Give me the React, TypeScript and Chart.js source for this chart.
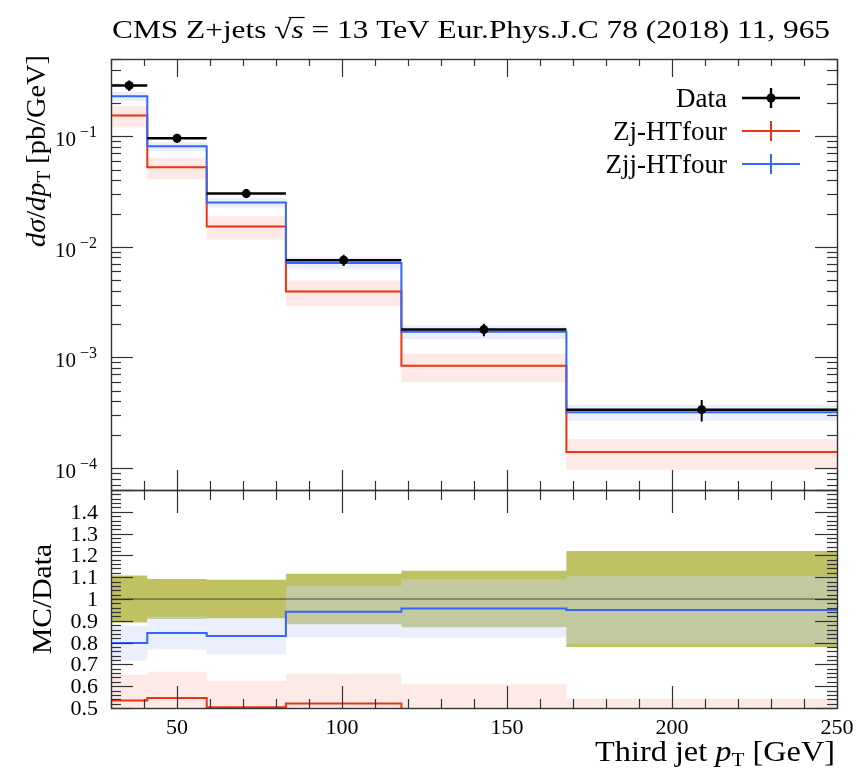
import React, { useEffect, useRef } from 'react';
import { Chart, registerables } from 'chart.js';
Chart.register(...registerables);

const FONT = '"Liberation Serif", "DejaVu Serif", serif';

// ---- data ----
const binEdges = [30, 41, 59, 83, 118, 168, 250];
const binCenters = [35.5, 50, 71, 100.5, 143, 209];
const dataValues = [0.288, 0.096, 0.0303, 0.00757, 0.00178, 0.000336];
const dataRelErr = [0.108, 0.092, 0.088, 0.116, 0.13, 0.22];
const zjValues = [0.154, 0.0524, 0.01524, 0.00394, 0.00084, 0.000139];
const zjRelErr = [0.22, 0.22, 0.24, 0.26, 0.29, 0.31];
const zjjValues = [0.2298, 0.081, 0.02515, 0.00713, 0.001702, 0.000319];
const zjjRelErr = [0.1, 0.09, 0.1, 0.125, 0.14, 0.165];

const xTickValues = [50, 100, 150, 200, 250];
const xTickLabels = ['50', '100', '150', '200', '250'];
const logDecades = [-1, -2, -3, -4];
const ratioTickValues = [0.5, 0.6, 0.7, 0.8, 0.9, 1.0, 1.1, 1.2, 1.3, 1.4];
const ratioTickLabels = ['0.5', '0.6', '0.7', '0.8', '0.9', '1', '1.1', '1.2', '1.3', '1.4'];
const legendLabels = ['Data', 'Zj-HTfour', 'Zjj-HTfour'];

const X_MIN = 30, X_MAX = 250;
const Y_MIN = 6.3e-5, Y_MAX = 0.5;
const R_MIN = 0.5, R_MAX = 1.5;

const RED = '#ee3311';
const BLUE = '#3366ff';
const YELLOW = 'rgb(191,193,99)';
const BLUE_BAND = 'rgba(203,213,250,0.4)';
const RED_BAND = 'rgba(238,51,17,0.1)';
const AXIS = '#333';

function histPoints(vals: number[]) {
  const pts: any[] = [];
  vals.forEach((v, i) => {
    pts.push({ x: binEdges[i], y: v });
    pts.push({ x: binEdges[i + 1], y: v });
  });
  return pts;
}
function hBars(vals: number[]) {
  const pts: any[] = [];
  vals.forEach((v, i) => {
    pts.push({ x: binEdges[i], y: v }, { x: binEdges[i + 1], y: v }, { x: binEdges[i + 1], y: null });
  });
  return pts;
}
function vBars(vals: number[], err: number[]) {
  const pts: any[] = [];
  vals.forEach((v, i) => {
    pts.push({ x: binCenters[i], y: v * (1 - err[i]) }, { x: binCenters[i], y: v * (1 + err[i]) }, { x: binCenters[i], y: null });
  });
  return pts;
}
const scaleArr = (a: number[], f: (v: number, i: number) => number) => a.map(f);

function lineDs(data: any[], color: string, width: number, order: number, extra: any = {}) {
  return {
    data, borderColor: color, borderWidth: width, pointRadius: 0, fill: false, order,
    tension: 0, spanGaps: false, ...extra,
  };
}
function bandDs(hi: number[], lo: number[], color: string, order: number) {
  return [
    { data: histPoints(hi), borderColor: 'transparent', borderWidth: 0, pointRadius: 0, fill: '+1', backgroundColor: color, order, tension: 0 },
    { data: histPoints(lo), borderColor: 'transparent', borderWidth: 0, pointRadius: 0, fill: false, order, tension: 0 },
  ];
}

type Part = { t: string; size: number; italic?: boolean; dy?: number };
function richWidth(ctx: CanvasRenderingContext2D, parts: Part[]) {
  let w = 0;
  for (const p of parts) {
    ctx.font = `${p.italic ? 'italic ' : ''}${p.size}px ${FONT}`;
    w += ctx.measureText(p.t).width;
  }
  return w;
}
// draws rich text; if fitWidth is given the text is stretched horizontally to that width
function drawRich(ctx: CanvasRenderingContext2D, parts: Part[], x: number, y: number, align: 'left' | 'right' | 'center', fitWidth?: number) {
  const w = richWidth(ctx, parts);
  const sx = fitWidth ? fitWidth / w : 1;
  const W = w * sx;
  const x0 = align === 'left' ? x : align === 'right' ? x - W : x - W / 2;
  ctx.save();
  ctx.translate(x0, y);
  ctx.scale(sx, 1);
  let cx = 0;
  ctx.textAlign = 'left';
  ctx.textBaseline = 'alphabetic';
  const offsets: number[] = [];
  for (const p of parts) {
    ctx.font = `${p.italic ? 'italic ' : ''}${p.size}px ${FONT}`;
    offsets.push(cx);
    ctx.fillText(p.t, cx, p.dy || 0);
    cx += ctx.measureText(p.t).width;
  }
  offsets.push(cx);
  ctx.restore();
  return { x0, sx, offsets };
}

function tick(ctx: CanvasRenderingContext2D, x1: number, y1: number, x2: number, y2: number) {
  ctx.beginPath();
  ctx.moveTo(x1, y1);
  ctx.lineTo(x2, y2);
  ctx.stroke();
}

function drawXTicks(chart: any, topMaj: number, topMin: number, botMaj: number, botMin: number) {
  const { ctx, chartArea: a, scales } = chart;
  for (let v = 30; v <= 250; v += 10) {
    const px = Math.round(scales.x.getPixelForValue(v)) + 0.5;
    const major = v % 50 === 0;
    tick(ctx, px, a.top, px, a.top + (major ? topMaj : topMin));
    tick(ctx, px, a.bottom, px, a.bottom - (major ? botMaj : botMin));
  }
}
function drawYTick(chart: any, v: number, len: number) {
  const { ctx, chartArea: a, scales } = chart;
  const py = Math.round(scales.y.getPixelForValue(v)) + 0.5;
  tick(ctx, a.left, py, a.left + len, py);
  tick(ctx, a.right, py, a.right - len, py);
}

const topPlugin = {
  id: 'topDecor',
  afterDraw(chart: any) {
    const { ctx, chartArea: a, scales } = chart;
    ctx.save();
    ctx.strokeStyle = AXIS;
    ctx.lineWidth = 1.2;
    drawXTicks(chart, 18, 7, 20, 9);
    for (let e = -5; e <= 0; e++) {
      for (let m = 1; m <= 9; m++) {
        const v = m * Math.pow(10, e);
        if (v < Y_MIN || v > Y_MAX) continue;
        drawYTick(chart, v, m === 1 ? 22 : 10);
      }
    }
    ctx.lineWidth = 1.4;
    ctx.strokeRect(a.left + 0.5, a.top + 0.5, a.right - a.left, a.bottom - a.top);

    ctx.fillStyle = '#000';
    // y tick labels
    logDecades.forEach((e) => {
      const py = scales.y.getPixelForValue(Math.pow(10, e));
      drawRich(ctx, [
        { t: '10', size: 21 },
        { t: ' \u2212' + String(-e), size: 16, dy: -9 },
      ], a.left - 14, py + 10, 'right');
    });

    // title
    const tParts: Part[] = [
      { t: 'CMS Z+jets ', size: 26 },
      { t: '\u221A', size: 26 },
      { t: 's', size: 26, italic: true },
      { t: ' = 13 TeV Eur.Phys.J.C 78 (2018) 11, 965', size: 26 },
    ];
    const ty = 38;
    const r = drawRich(ctx, tParts, a.left + 1, ty, 'left', 718);
    ctx.lineWidth = 1.2;
    ctx.strokeStyle = '#000';
    tick(ctx, r.x0 + r.offsets[1] * r.sx + r.sx * 12, ty - 20.5, r.x0 + r.offsets[3] * r.sx + 1, ty - 20.5);

    // y title
    ctx.save();
    ctx.translate(45, a.top - 4);
    ctx.rotate(-Math.PI / 2);
    drawRich(ctx, [
      { t: 'd\u03C3', size: 28, italic: true },
      { t: '/', size: 28 },
      { t: 'dp', size: 28, italic: true },
      { t: 'T', size: 19, dy: 5 },
      { t: ' [pb/GeV]', size: 28 },
    ], 0, 0, 'right', 192);
    ctx.restore();

    // legend
    const colors = ['#000', RED, BLUE];
    legendLabels.forEach((lab, i) => {
      const yc = a.top + 39 + 33 * i;
      ctx.fillStyle = '#000';
      ctx.font = `27px ${FONT}`;
      ctx.textAlign = 'right';
      ctx.textBaseline = 'alphabetic';
      ctx.fillText(lab, a.right - 110, yc + 9);
      ctx.strokeStyle = colors[i];
      ctx.lineWidth = i === 0 ? 2.4 : 2;
      const x1 = a.right - 95, x2 = a.right - 37, xm = (x1 + x2) / 2;
      tick(ctx, x1, yc, x2, yc);
      tick(ctx, xm, yc - 10, xm, yc + 10);
      if (i === 0) {
        ctx.fillStyle = '#000';
        ctx.beginPath();
        ctx.arc(xm, yc, 4.5, 0, Math.PI * 2);
        ctx.fill();
      }
    });
    ctx.restore();
  },
};

const ratioPlugin = {
  id: 'ratioDecor',
  afterDraw(chart: any) {
    const { ctx, chartArea: a, scales } = chart;
    ctx.save();
    ctx.strokeStyle = AXIS;
    ctx.lineWidth = 1.2;
    drawXTicks(chart, 23, 10, 22, 9);
    for (let k = 0; k <= 50; k++) {
      const v = R_MIN + k * 0.02;
      drawYTick(chart, v, k % 5 === 0 ? 22 : 10);
    }
    ctx.lineWidth = 1.4;
    ctx.strokeRect(a.left + 0.5, a.top + 0.5, a.right - a.left, a.bottom - a.top);

    ctx.fillStyle = '#000';
    ctx.font = `22px ${FONT}`;
    ctx.textAlign = 'right';
    ctx.textBaseline = 'alphabetic';
    ratioTickValues.forEach((v, i) => {
      const py = scales.y.getPixelForValue(v);
      ctx.fillText(ratioTickLabels[i], a.left - 13, py + 7);
    });
    ctx.textAlign = 'center';
    xTickValues.forEach((v, i) => {
      const px = scales.x.getPixelForValue(v);
      ctx.fillText(xTickLabels[i], px, a.bottom + 26);
    });

    drawRich(ctx, [
      { t: 'Third jet ', size: 29 },
      { t: 'p', size: 29, italic: true },
      { t: 'T', size: 19, dy: 5 },
      { t: ' [GeV]', size: 29 },
    ], a.right - 2, 761, 'right', 240);

    ctx.save();
    ctx.translate(51, (a.top + a.bottom) / 2);
    ctx.rotate(-Math.PI / 2);
    drawRich(ctx, [{ t: 'MC/Data', size: 28 }], 0, 0, 'center', 110);
    ctx.restore();
    ctx.restore();
  },
};

function baseOptions(padTop: number, padBottom: number, yScale: any) {
  return {
    animation: false as const,
    responsive: false,
    maintainAspectRatio: false,
    devicePixelRatio: 1,
    events: [],
    layout: { padding: { left: 111, right: 28, top: padTop, bottom: padBottom } },
    plugins: { legend: { display: false }, tooltip: { enabled: false }, title: { display: false } },
    scales: {
      x: { type: 'linear', min: X_MIN, max: X_MAX, display: false },
      y: yScale,
    },
  };
}

function topConfig(): any {
  const datasets: any[] = [
    ...bandDs(scaleArr(zjValues, (v, i) => v * (1 + zjRelErr[i])), scaleArr(zjValues, (v, i) => v * (1 - zjRelErr[i])), RED_BAND, 20),
    ...bandDs(scaleArr(zjjValues, (v, i) => v * (1 + zjjRelErr[i])), scaleArr(zjjValues, (v, i) => v * (1 - zjjRelErr[i])), BLUE_BAND, 19),
    lineDs(histPoints(zjValues), RED, 2, 5),
    lineDs(histPoints(zjjValues), BLUE, 2, 4),
    lineDs(hBars(dataValues), '#000', 2.5, 2),
    lineDs(vBars(dataValues, dataRelErr), '#000', 2, 2),
    {
      data: dataValues.map((v, i) => ({ x: binCenters[i], y: v })),
      showLine: false, pointRadius: 4.5, pointBackgroundColor: '#000', pointBorderColor: '#000', pointBorderWidth: 0, order: 1,
    },
  ];
  return {
    type: 'line',
    data: { datasets },
    options: baseOptions(59, 772 - 490, { type: 'logarithmic', min: Y_MIN, max: Y_MAX, display: false }),
    plugins: [topPlugin],
  };
}

function ratioConfig(): any {
  const ones = dataValues.map(() => 1);
  const datasets: any[] = [
    ...bandDs(scaleArr(ones, (v, i) => 1 + dataRelErr[i]), scaleArr(ones, (v, i) => 1 - dataRelErr[i]), YELLOW, 30),
    ...bandDs(
      scaleArr(zjjValues, (v, i) => (v * (1 + zjjRelErr[i])) / dataValues[i]),
      scaleArr(zjjValues, (v, i) => (v * (1 - zjjRelErr[i])) / dataValues[i]), BLUE_BAND, 20),
    ...bandDs(
      scaleArr(zjValues, (v, i) => (v * (1 + zjRelErr[i])) / dataValues[i]),
      scaleArr(zjValues, (v, i) => (v * (1 - zjRelErr[i])) / dataValues[i]), RED_BAND, 19),
    lineDs([{ x: X_MIN, y: 1 }, { x: X_MAX, y: 1 }], 'rgba(30,30,30,0.75)', 1.2, 6),
    lineDs(histPoints(scaleArr(zjValues, (v, i) => v / dataValues[i])), RED, 2, 5),
    lineDs(histPoints(scaleArr(zjjValues, (v, i) => v / dataValues[i])), BLUE, 2, 4),
  ];
  return {
    type: 'line',
    data: { datasets },
    options: baseOptions(490, 772 - 708, { type: 'linear', min: R_MIN, max: R_MAX, display: false }),
    plugins: [ratioPlugin],
  };
}

export default function App() {
  const topRef = useRef<HTMLCanvasElement>(null);
  const botRef = useRef<HTMLCanvasElement>(null);
  useEffect(() => {
    const c1 = new Chart(topRef.current as HTMLCanvasElement, topConfig());
    const c2 = new Chart(botRef.current as HTMLCanvasElement, ratioConfig());
    return () => {
      c1.destroy();
      c2.destroy();
    };
  }, []);
  const cs: React.CSSProperties = { position: 'absolute', left: 0, top: 0, width: 865, height: 772 };
  return (
    <div style={{ position: 'absolute', left: 0, top: 0, width: 865, height: 772, background: '#fff' }}>
      <canvas ref={topRef} width={865} height={772} style={cs} />
      <canvas ref={botRef} width={865} height={772} style={cs} />
    </div>
  );
}
